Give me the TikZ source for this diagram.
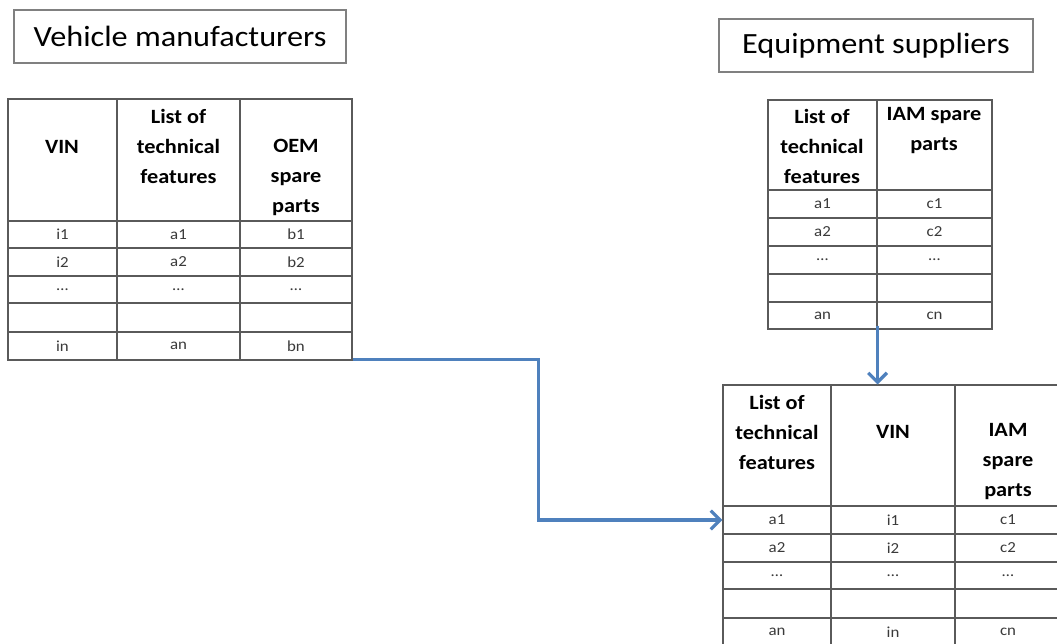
\documentclass[tikz,border=0pt]{standalone}
\usepackage{fontspec}
\setmainfont{Carlito}[FakeStretch=1.1]
\usetikzlibrary{arrows.meta}
\definecolor{flowblue}{HTML}{4F81BD}
\definecolor{tline}{HTML}{5A5A5A}
\definecolor{ttext}{HTML}{3A3A3A}
\definecolor{tbox}{HTML}{808080}
\newcommand\mycell[6]{\node[cell, minimum width={(#4-#2)*0.75pt}, minimum height={(#5-#3)*0.75pt}] (#1) at ({(#2+#4)/2},{(#3+#5)/2}) {#6};}
\tikzset{
  cell/.style={draw=tline, line width=0.9pt, inner sep=0pt, text=ttext, font=\fontsize{11.5}{13}\selectfont},
  headtext/.style={align=center, inner sep=0pt, font=\bfseries\fontsize{15.2}{22.5}\selectfont},
  titlebox/.style={draw=tbox, line width=1.3pt, inner sep=0pt, font=\fontsize{22}{26}\selectfont},
  flow/.style={draw=flowblue, line width=2.6pt, -{Straight Barb[length=7pt,width=14pt,line width=2.4pt]}}
}
\begin{document}
\begin{tikzpicture}[x=0.75pt,y=-0.75pt]
\useasboundingbox (0,0) rectangle (1057,643);
\fill[white] (0,0) rectangle (1057,643);
\clip (0,0) rectangle (1057,643);

% titles
\node[titlebox, minimum width={332*0.75pt}, minimum height={53*0.75pt}] (vm) at (180,36.5) {Vehicle manufacturers};
\node[titlebox, minimum width={314*0.75pt}, minimum height={53*0.75pt}] (es) at (876,45.5) {Equipment suppliers};

% left table
\mycell{L-0-1}{8}{99}{117}{221}{}
\mycell{L-0-2}{117}{99}{240}{221}{}
\mycell{L-0-3}{240}{99}{352}{221}{}
\foreach \ya/\yb/\r/\ta/\tb/\tc in {221/248/1/i1/a1/b1, 248/276/2/i2/a2/b2, 276/303/3/\ldots/\ldots/\ldots, 303/332/4/{}/{}/{}, 332/360/5/in/an/bn}{
  \mycell{L-\r-1}{8}{\ya}{117}{\yb}{\ta}
  \mycell{L-\r-2}{117}{\ya}{240}{\yb}{\tb}
  \mycell{L-\r-3}{240}{\ya}{352}{\yb}{\tc}
}
\node[headtext] (Lh1) at (62,147) {VIN};
\node[headtext] (Lh2) at (178.5,146.5) {List of\\technical\\features};
\node[headtext] (Lh3) at (296,177) {OEM\\spare\\parts};

% top right table
\mycell{R-0-1}{768}{100}{877}{190}{}
\mycell{R-0-2}{877}{100}{992}{190}{}
\foreach \ya/\yb/\r/\ta/\tb in {190/218/1/a1/c1, 218/246/2/a2/c2, 246/274/3/\ldots/\ldots, 274/302/4/{}/{}, 302/329/5/an/cn}{
  \mycell{R-\r-1}{768}{\ya}{877}{\yb}{\ta}
  \mycell{R-\r-2}{877}{\ya}{992}{\yb}{\tb}
}
\node[headtext] (Rh1) at (822,146) {List of\\technical\\features};
\node[headtext] (Rh2) at (934,131) {IAM spare\\parts};

% bottom right table
\mycell{B-0-1}{723}{385}{831}{506}{}
\mycell{B-0-2}{831}{385}{955}{506}{}
\mycell{B-0-3}{955}{385}{1061}{506}{}
\foreach \ya/\yb/\r/\ta/\tb/\tc in {506/534/1/a1/i1/c1, 534/562/2/a2/i2/c2, 562/589/3/\ldots/\ldots/\ldots, 589/618/4/{}/{}/{}, 618/646/5/an/in/cn}{
  \mycell{B-\r-1}{723}{\ya}{831}{\yb}{\ta}
  \mycell{B-\r-2}{831}{\ya}{955}{\yb}{\tb}
  \mycell{B-\r-3}{955}{\ya}{1061}{\yb}{\tc}
}
\node[headtext] (Bh1) at (777,432) {List of\\technical\\features};
\node[headtext] (Bh2) at (893,432) {VIN};
\node[headtext] (Bh3) at (1008,462) {IAM\\spare\\parts};

% connectors
\draw[flow] ([yshift=0.75pt]L-5-3.south east) -- ++(186,0) |- (B-1-1.west);
\draw[flow] ([yshift=3pt]R-5-1.south east) -- (R-5-1.south east |- B-0-1.north);
\end{tikzpicture}
\end{document}
